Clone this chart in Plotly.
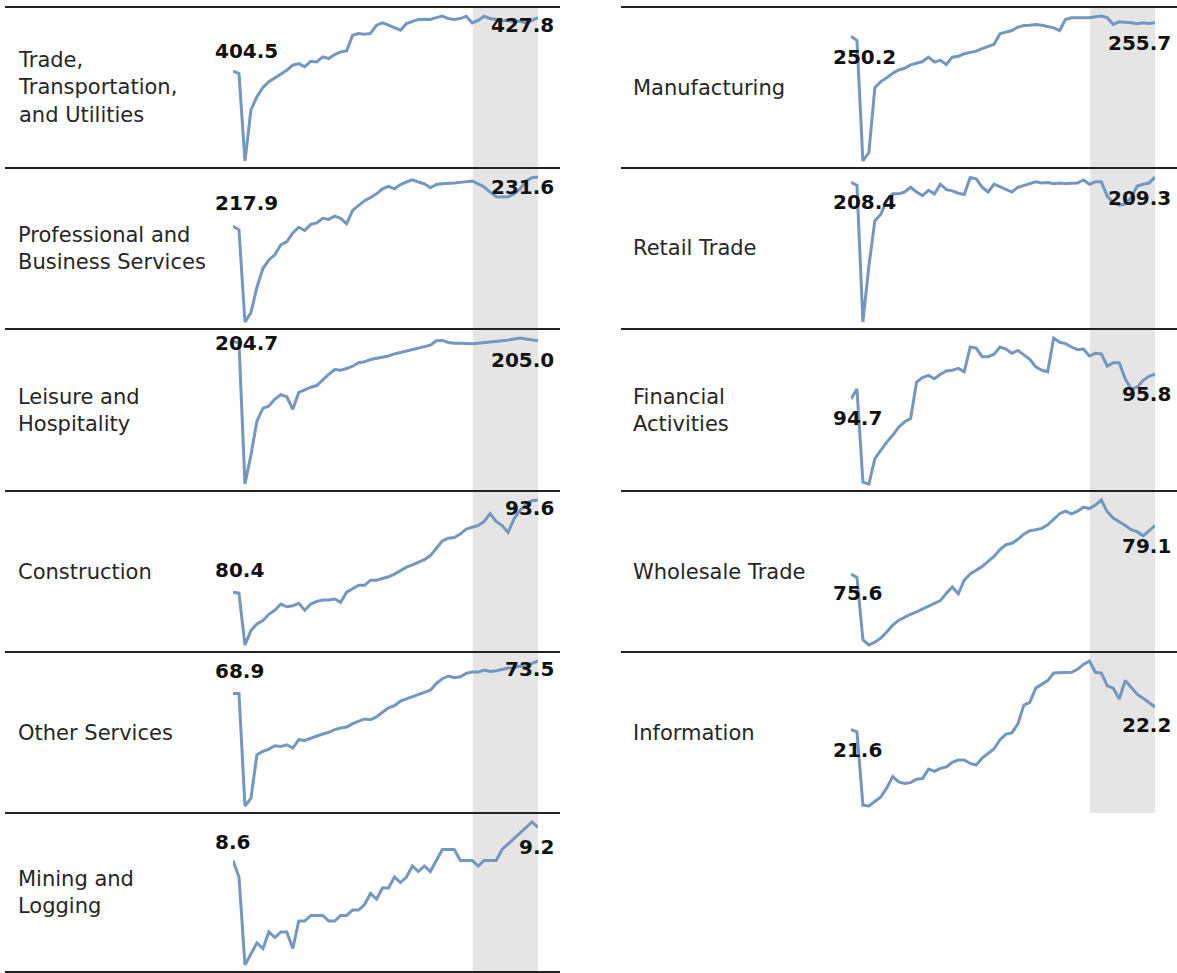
import plotly.graph_objects as go

W, H = 1177, 973

# ---------------- data ----------------
months = list(range(52))          # monthly index, first month = 0
shade_from = 40.1                 # start of shaded (latest) period, in month index

trade = [404.5, 403.5, 365.4, 387.6, 393.4, 397.4, 399.9, 401.6, 403.2, 404.9,
         407.1, 407.8, 406.4, 408.8, 408.5, 410.7, 410.0, 411.7, 412.9, 413.3,
         420.1, 420.9, 420.6, 420.9, 424.5, 425.5, 424.5, 423.5, 422.3, 425.2,
         426.2, 427.0, 427.1, 427.0, 427.8, 428.5, 427.4, 427.0, 427.4, 428.4,
         425.5, 426.6, 428.4, 427.4, 427.0, 426.4, 426.6, 425.9, 426.3, 425.5,
         426.6, 427.8]
professional = [217.9, 216.9, 191.2, 193.8, 200.9, 206.1, 208.5, 209.9, 212.7, 213.6,
                216.0, 217.6, 216.7, 218.4, 218.8, 220.1, 219.8, 220.7, 220.1, 218.6,
                222.3, 223.6, 225.0, 225.9, 226.9, 228.3, 229.0, 228.3, 229.5, 230.2,
                230.8, 230.2, 229.7, 228.6, 229.5, 229.7, 229.7, 229.9, 230.1, 230.2,
                230.5, 229.7, 228.8, 227.4, 226.1, 226.0, 226.1, 226.9, 228.3, 230.5,
                231.4, 231.6]
leisure = [204.7, 203.4, 110.7, 129.7, 152.1, 160.5, 162.1, 166.6, 169.5, 168.1,
           159.9, 171.0, 172.6, 174.4, 175.5, 179.3, 182.9, 186.0, 185.6, 186.7,
           188.2, 190.5, 191.1, 192.7, 193.4, 194.5, 195.0, 196.3, 197.2, 198.5,
           199.4, 200.1, 200.8, 202.1, 205.0, 205.2, 203.9, 203.4, 203.4, 203.2,
           203.0, 203.4, 203.9, 204.3, 204.6, 205.0, 205.4, 206.1, 206.8, 206.1,
           205.7, 205.0]
construction = [80.40, 80.25, 72.82, 74.88, 75.85, 76.34, 77.22, 77.81, 78.69, 78.30,
                78.44, 78.79, 77.81, 78.69, 79.08, 79.28, 79.28, 79.42, 78.93, 80.40,
                80.89, 81.38, 81.38, 82.11, 82.11, 82.36, 82.60, 82.99, 83.48, 83.97,
                84.31, 84.65, 85.04, 85.63, 86.76, 87.73, 88.12, 88.22, 88.71, 89.44,
                89.69, 89.93, 90.52, 91.64, 90.52, 89.93, 88.96, 90.91, 92.13, 92.96,
                93.50, 93.60]
other_services = [68.90, 68.90, 52.97, 54.06, 60.22, 60.70, 61.03, 61.50, 61.41, 61.64,
                  61.17, 62.36, 62.26, 62.59, 62.83, 63.16, 63.40, 63.78, 64.02, 64.16,
                  64.63, 64.96, 65.30, 65.20, 65.58, 66.24, 66.86, 67.19, 67.81, 68.14,
                  68.43, 68.71, 68.99, 69.37, 70.32, 70.99, 71.37, 71.13, 71.27, 71.75,
                  71.93, 71.93, 72.22, 72.03, 72.12, 72.31, 72.50, 72.55, 72.79, 72.69,
                  73.17, 73.50]
mining = [8.6, 8.3, 6.7, 6.9, 7.1, 7.0, 7.3, 7.2, 7.3, 7.3,
          7.0, 7.5, 7.5, 7.6, 7.6, 7.6, 7.5, 7.5, 7.6, 7.6,
          7.7, 7.7, 7.8, 8.0, 7.9, 8.1, 8.1, 8.3, 8.2, 8.3,
          8.5, 8.4, 8.5, 8.4, 8.6, 8.8, 8.8, 8.8, 8.6, 8.6,
          8.6, 8.5, 8.6, 8.6, 8.6, 8.8, 8.9, 9.0, 9.1, 9.2,
          9.3, 9.2]
manufacturing = [250.2, 248.4, 198.6, 202.1, 228.9, 231.4, 233.0, 234.8, 236.2, 236.9,
                 238.3, 239.0, 239.7, 241.5, 239.5, 240.2, 238.5, 241.5, 241.9, 242.9,
                 243.3, 244.0, 245.0, 245.8, 246.8, 251.2, 251.8, 252.5, 253.9, 254.6,
                 254.7, 255.0, 254.7, 254.3, 253.6, 252.5, 257.1, 257.8, 257.8, 258.0,
                 257.8, 258.2, 258.5, 257.8, 255.0, 256.1, 256.0, 255.7, 255.3, 255.7,
                 255.4, 255.7]
retail = [208.4, 207.9, 185.2, 194.5, 202.0, 203.1, 205.4, 206.5, 206.5, 206.8,
          207.6, 206.8, 206.2, 207.1, 206.5, 208.1, 207.2, 207.0, 206.6, 206.4,
          209.2, 209.0, 207.6, 206.8, 208.1, 207.7, 207.3, 206.8, 207.6, 207.9,
          208.1, 208.5, 208.3, 208.4, 208.2, 208.3, 208.2, 208.2, 208.3, 208.8,
          208.1, 208.5, 208.5, 206.1, 205.0, 204.6, 204.8, 205.9, 207.8, 208.1,
          208.3, 209.3]
financial = [94.70, 95.15, 91.01, 90.93, 92.06, 92.44, 92.79, 93.09, 93.45, 93.69,
             93.84, 95.45, 95.65, 95.75, 95.60, 95.80, 95.95, 95.98, 96.06, 95.91,
             97.01, 96.96, 96.58, 96.58, 96.69, 97.01, 96.92, 96.73, 96.86, 96.66,
             96.46, 96.13, 95.98, 95.91, 97.41, 97.22, 97.16, 97.01, 96.89, 96.92,
             96.61, 96.73, 96.70, 96.16, 96.31, 96.31, 95.60, 95.15, 95.23, 95.53,
             95.71, 95.80]
wholesale = [75.60, 75.35, 70.84, 70.47, 70.67, 70.97, 71.41, 71.90, 72.25, 72.49,
             72.69, 72.86, 73.06, 73.23, 73.43, 73.68, 74.22, 74.66, 74.17, 75.16,
             75.60, 75.85, 76.14, 76.51, 76.88, 77.37, 77.72, 77.82, 78.11, 78.48,
             78.73, 78.80, 78.90, 79.15, 79.59, 79.96, 80.14, 79.94, 80.14, 80.43,
             80.33, 80.58, 80.95, 80.09, 79.64, 79.40, 79.10, 78.80, 78.66, 78.36,
             78.73, 79.10]
information = [21.60, 21.54, 19.59, 19.57, 19.69, 19.81, 20.05, 20.35, 20.21, 20.17,
               20.19, 20.28, 20.30, 20.55, 20.49, 20.57, 20.61, 20.73, 20.79, 20.79,
               20.70, 20.66, 20.84, 20.96, 21.09, 21.33, 21.48, 21.51, 21.75, 22.25,
               22.32, 22.70, 22.81, 22.90, 23.10, 23.10, 23.10, 23.12, 23.20, 23.33,
               23.42, 23.12, 23.10, 22.76, 22.70, 22.41, 22.90, 22.72, 22.54, 22.43,
               22.32, 22.20]

labels = ["Trade,<br>Transportation,<br>and Utilities",
          "Professional and<br>Business Services",
          "Leisure and<br>Hospitality",
          "Construction",
          "Other Services",
          "Mining and<br>Logging",
          "Manufacturing",
          "Retail Trade",
          "Financial<br>Activities",
          "Wholesale Trade",
          "Information"]
series = [trade, professional, leisure, construction, other_services, mining,
          manufacturing, retail, financial, wholesale, information]

# ---------------- layout / style ----------------
cols = [0, 0, 0, 0, 0, 0, 1, 1, 1, 1, 1]
rows = [0, 1, 2, 3, 4, 5, 0, 1, 2, 3, 4]
start_yshift = [20, 23, -2, 22, 22, 19, -21, -20, -19, -19, -20]
end_yshift = [-7, -10, -19, -8, -8, -19, -20, -21, -20, -20, -18]

row_edges = [7, 168, 329, 491, 652, 813, 972]
plot_x = [(233, 538), (851, 1155)]
label_x = [16, 631]
rule_x = [(5, 560), (621, 1177)]
rule_rows = [7, 5]  # number of rules per column: left has 7 (incl. bottom)

LINE = "#7397C0"
SHADE = "#E5E5E5"
RULE = "#222222"
FONT = "DejaVu Sans"

fig = go.Figure()
layout = dict(
    width=W, height=H,
    margin=dict(l=0, r=0, t=0, b=0),
    paper_bgcolor="white", plot_bgcolor="rgba(0,0,0,0)",
    showlegend=False,
    font=dict(family=FONT, color="#222"),
)
annotations = []
shapes = []

for k, (lab, vals) in enumerate(zip(labels, series), start=1):
    col, row = cols[k - 1], rows[k - 1]
    xa = "x" if k == 1 else f"x{k}"
    ya = "y" if k == 1 else f"y{k}"
    fig.add_trace(go.Scatter(x=months, y=vals, mode="lines",
                             line=dict(color=LINE, width=3),
                             xaxis=xa, yaxis=ya, hoverinfo="skip"))
    top, bot = row_edges[row], row_edges[row + 1]
    h = bot - top
    lo, hi = min(vals), max(vals)
    upp = (hi - lo) / (h - 16)
    x0p, x1p = plot_x[col]
    layout["xaxis" if k == 1 else f"xaxis{k}"] = dict(
        domain=[x0p / W, x1p / W], range=[months[0], months[-1]],
        visible=False, fixedrange=True)
    layout["yaxis" if k == 1 else f"yaxis{k}"] = dict(
        domain=[1 - bot / H, 1 - top / H], range=[lo - 7 * upp, hi + 9 * upp],
        visible=False, fixedrange=True)
    shapes.append(dict(type="rect", xref=xa, yref=f"{ya} domain",
                       x0=shade_from, x1=months[-1], y0=0, y1=1,
                       fillcolor=SHADE, line=dict(width=0), layer="below"))
    # start / end values
    annotations.append(dict(x=months[0], y=vals[0], xref=xa, yref=ya,
                            text=f"<b>{vals[0]:.1f}</b>", showarrow=False,
                            xanchor="left", yanchor="middle",
                            xshift=-20, yshift=start_yshift[k - 1],
                            font=dict(family=FONT, size=20, color="#111")))
    annotations.append(dict(x=months[-1], y=vals[-1], xref=xa, yref=ya,
                            text=f"<b>{vals[-1]:.1f}</b>", showarrow=False,
                            xanchor="right", yanchor="middle",
                            xshift=18, yshift=end_yshift[k - 1],
                            font=dict(family=FONT, size=20, color="#111")))
    # category label
    annotations.append(dict(x=label_x[col] / W, y=1 - (top + bot) / 2 / H,
                            xref="paper", yref="paper", text=lab,
                            showarrow=False, xanchor="left", yanchor="middle",
                            align="left",
                            font=dict(family=FONT, size=21, color="#262626")))

for col in range(2):
    xa0, xa1 = rule_x[col]
    for ry in row_edges[:rule_rows[col]]:
        shapes.append(dict(type="line", xref="paper", yref="paper",
                           x0=xa0 / W, x1=xa1 / W, y0=1 - ry / H, y1=1 - ry / H,
                           line=dict(color=RULE, width=2), layer="above"))

layout["annotations"] = annotations
layout["shapes"] = shapes
fig.update_layout(**layout)

fig.write_html("out.html", config={"displayModeBar": False},
               post_script="document.body.style.margin='0';document.body.style.overflow='hidden';")
